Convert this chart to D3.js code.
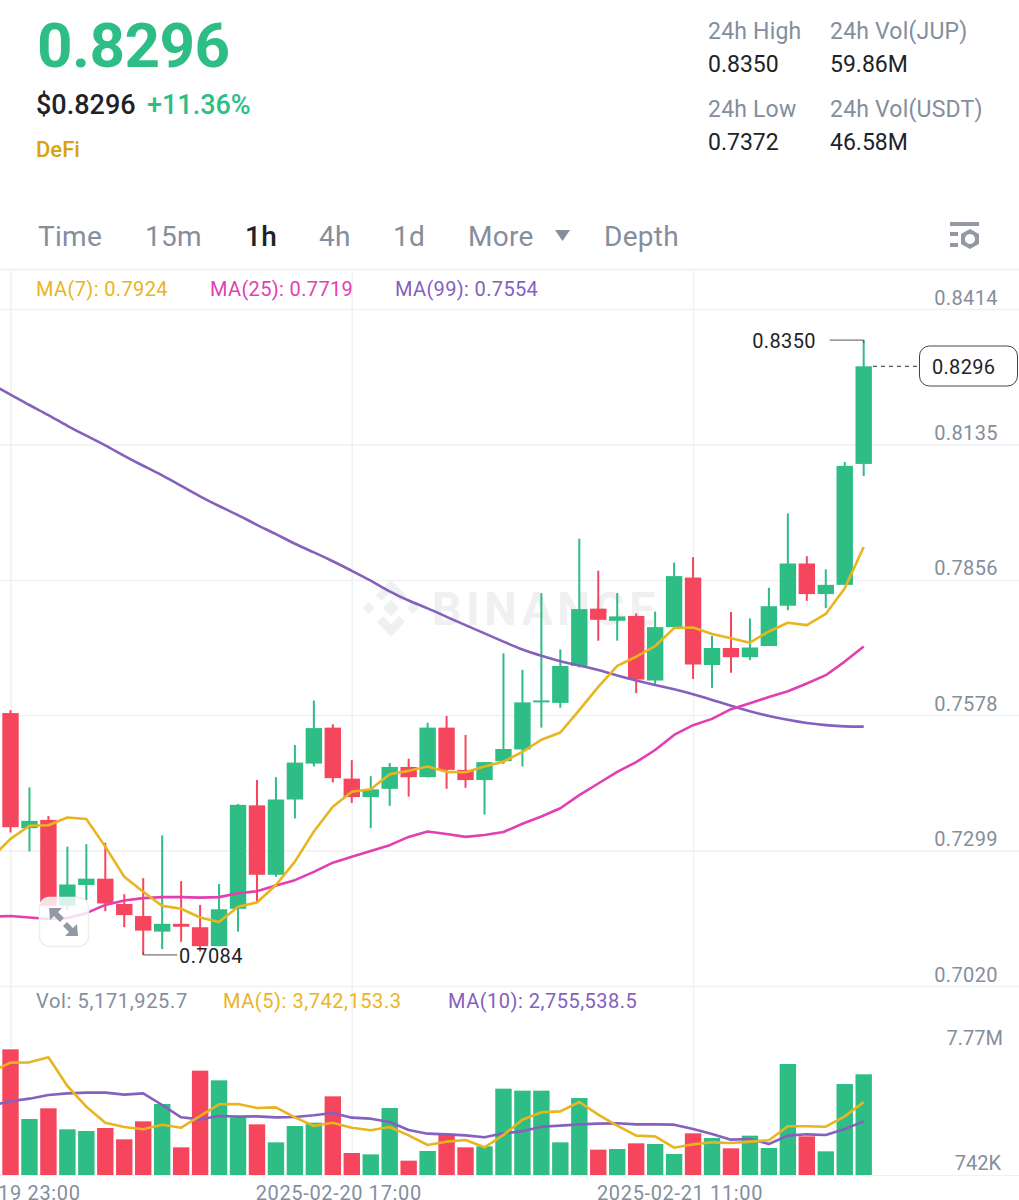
<!DOCTYPE html>
<html>
<head>
<meta charset="utf-8">
<script src="https://cdn.jsdelivr.net/npm/d3@7"></script>
<style>
  body { margin: 0; background: #fff; }
  svg { display: block; }
  text { font-family: Roboto, sans-serif; }
</style>
</head>
<body>
<div id="chart"></div>
<script>
// candles, one per hour, oldest first
var opens = [.7582,.7345,.7362,.7185,.7228,.7241,.7189,.7164,.7132,.7148,.7141,.7102,.7179,.7392,.7249,.7404,.7478,.7552,.7447,.7409,.7426,.7471,.7450,.7552,.7465,.7444,.7483,.7507,.7604,.7603,.7679,.7797,.7772,.7782,.7649,.7759,.7861,.7681,.7716,.7697,.7720,.7803,.7890,.7827,.7846,.8095];
var closes = [.7347,.7360,.7185,.7229,.7241,.7190,.7166,.7134,.7148,.7142,.7102,.7178,.7393,.7249,.7404,.7480,.7551,.7448,.7409,.7425,.7471,.7450,.7552,.7465,.7444,.7481,.7508,.7604,.7608,.7679,.7796,.7774,.7781,.7651,.7759,.7864,.7682,.7716,.7697,.7717,.7802,.7890,.7827,.7846,.8091,.8296];
var highs = [.7588,.7429,.7370,.7307,.7312,.7315,.7209,.7242,.7330,.7236,.7187,.7230,.7395,.7444,.7450,.7516,.7608,.7559,.7485,.7452,.7479,.7488,.7562,.7576,.7537,.7481,.7705,.7671,.7829,.7713,.7941,.7875,.7829,.7787,.7791,.7892,.7903,.7741,.7790,.7777,.7840,.7993,.7905,.7878,.8099,.8350];
var lows = [.7336,.7297,.7184,.7177,.7197,.7174,.7141,.7084,.7096,.7111,.7091,.7102,.7132,.7192,.7245,.7365,.7472,.7439,.7397,.7345,.7391,.7410,.7450,.7426,.7428,.7373,.7477,.7472,.7552,.7593,.7676,.7731,.7731,.7623,.7640,.7759,.7652,.7634,.7665,.7691,.7720,.7794,.7813,.7798,.7846,.8070];

// moving averages start one hour before the first candle, off the left edge
var ma7 = [.7284,.7323,.7350,.7351,.7367,.7364,.7307,.7245,.7214,.7185,.7179,.7161,.7152,.7183,.7192,.7228,.7276,.7338,.7389,.7420,.7425,.7456,.7463,.7472,.7461,.7460,.7472,.7482,.7502,.7527,.7542,.7588,.7636,.7679,.7698,.7720,.7757,.7758,.7745,.7736,.7727,.7750,.7768,.7763,.7786,.7839,.7924];
var ma25 = [.7163,.7164,.7161,.7158,.7160,.7170,.7187,.7196,.7201,.7203,.7203,.7202,.7203,.7211,.7215,.7227,.7238,.7255,.7274,.7286,.7298,.7310,.7327,.7338,.7333,.7327,.7331,.7337,.7354,.7369,.7386,.7413,.7437,.7461,.7481,.7506,.7537,.7557,.7570,.7590,.7602,.7615,.7627,.7643,.7660,.7688,.7719];
var ma99 = [.8259,.8238,.8216,.8196,.8173,.8153,.8134,.8111,.8091,.8072,.8050,.8028,.8008,.7990,.7969,.7951,.7930,.7913,.7895,.7875,.7855,.7832,.7813,.7798,.7780,.7763,.7746,.7729,.7712,.7700,.7688,.7680,.7671,.7659,.7649,.7640,.7631,.7621,.7609,.7597,.7585,.7576,.7568,.7561,.7557,.7554,.7554];

// volume in millions
var volumes = [6.454,2.876,3.424,2.346,2.260,2.414,1.832,2.756,3.647,1.421,5.359,4.862,2.945,2.602,1.678,2.517,2.688,4.040,1.130,1.061,3.441,0.736,1.233,2.123,1.421,1.472,4.434,4.331,4.331,1.678,3.955,1.301,1.335,1.626,1.592,1.079,2.140,1.900,1.370,2.020,1.387,5.701,1.986,1.216,4.674,5.172];
var volMa5 = [5.307,5.770,5.787,6.043,4.571,3.510,2.688,2.465,2.346,2.585,2.431,3.030,3.630,3.647,3.441,3.475,2.962,2.517,2.688,2.431,2.294,2.465,2.037,1.541,1.712,1.798,1.421,2.054,2.842,3.219,3.270,3.749,3.099,2.534,2.020,1.986,1.404,1.575,1.678,1.644,1.712,1.781,2.500,2.500,2.482,3.013,3.742];
var volMa10 = [3.578,3.784,3.921,4.109,4.194,4.229,4.229,4.126,4.194,3.595,2.962,2.859,3.030,2.996,3.013,2.962,2.979,3.065,3.184,2.945,2.893,2.722,2.311,2.123,2.089,2.037,1.935,2.140,2.243,2.482,2.534,2.602,2.637,2.654,2.602,2.602,2.585,2.363,2.106,1.815,1.849,1.592,2.020,2.089,2.054,2.363,2.756];

var priceTicks = [0.8414, 0.8135, 0.7856, 0.7578, 0.7299, 0.7020];
var timeTicks = [0, 18, 36];
var timeLabels = ["2025-02-19 23:00", "2025-02-20 17:00", "2025-02-21 11:00"];
var tabs = ["Time", "15m", "1h", "4h", "1d", "More", "Depth"];
var tabX = [38, 145, 245, 319, 393, 468, 604];
var statLabels = ["24h High", "24h Vol(JUP)", "24h Low", "24h Vol(USDT)"];
var statValues = ["0.8350", "59.86M", "0.7372", "46.58M"];

var GREEN = "#2ebd85", RED = "#f6465d", YELLOW = "#e9b51e", PINK = "#e23fb0", PURPLE = "#8560bd";
var GREY = "#848e9c", DARK = "#1e2329", GRIDC = "#f0f1f3";

var svg = d3.select("#chart").append("svg").attr("width", 1019).attr("height", 1200);

var x = d3.scaleLinear().domain([0, 45]).range([10.5, 863.7]);
var y = d3.scaleLinear().domain([0.7020, 0.8414]).range([986, 309]);
var yv = d3.scaleLinear().domain([0, 5.172]).range([1175, 1074.3]);
var idx = d3.range(opens.length);

function label(t, px, py, size, color, weight, anchor, spacing) {
  return svg.append("text").attr("x", px).attr("y", py).attr("font-size", size)
    .attr("fill", color).attr("font-weight", weight || 400)
    .attr("text-anchor", anchor || "start").attr("letter-spacing", spacing || 0).text(t);
}

// header
label("0.8296", 37, 67, 62, GREEN, 700).attr("textLength", 193);
label("$0.8296", 36, 114, 27, DARK, 500);
label("+11.36%", 147, 114, 27, GREEN, 500);
label("DeFi", 36, 157, 22, "#d9a30f", 500);

statLabels.forEach(function(t, i) {
  var px = i % 2 ? 830 : 708;
  var py = i < 2 ? 39 : 117;
  label(t, px, py, 23, GREY, 400, "start", 0.2);
  label(statValues[i], px, py + 33, 23, DARK);
});

// tabs
tabs.forEach(function(t, i) {
  label(t, tabX[i], 246, 28, t == "1h" ? DARK : GREY, t == "1h" ? 500 : 400, "start", 0.3);
});
svg.append("path").attr("d", "M555 230h15l-7.5 11z").attr("fill", GREY);

// settings icon
var icon = svg.append("g").attr("fill", "#9299a5");
icon.append("rect").attr("x", 950).attr("y", 222).attr("width", 29).attr("height", 4);
icon.append("rect").attr("x", 950).attr("y", 232).attr("width", 8).attr("height", 4);
icon.append("rect").attr("x", 950).attr("y", 243).attr("width", 8).attr("height", 4);
icon.append("path").attr("fill-rule", "evenodd")
  .attr("d", "M970 229l9 5v10l-9 5-9-5v-10zM970 234a5 5 0 1 0 .01 0z");

// frame lines
svg.append("line").attr("x1", 0).attr("x2", 1019).attr("y1", 269.5).attr("y2", 269.5).attr("stroke", GRIDC).attr("stroke-width", 2);
svg.append("line").attr("x1", 0).attr("x2", 1019).attr("y1", 1175.5).attr("y2", 1175.5).attr("stroke", GRIDC);

// price axis carries the horizontal grid
var yAxis = svg.append("g").call(d3.axisRight(y).tickValues(priceTicks).tickSize(1019).tickFormat(d3.format(".4f")));
yAxis.select(".domain").remove();
yAxis.selectAll("line").attr("stroke", GRIDC).attr("stroke-width", 1.5);
yAxis.selectAll("text").attr("x", 998).attr("dy", -5).attr("text-anchor", "end")
  .attr("font-size", 20).attr("fill", GREY).attr("letter-spacing", 0.4).attr("font-family", "Roboto, sans-serif");

// time axis carries the vertical grid
var xAxis = svg.append("g").attr("transform", "translate(0,1175)")
  .call(d3.axisTop(x).tickValues(timeTicks).tickSize(905).tickFormat(""));
xAxis.select(".domain").remove();
xAxis.selectAll("line").attr("stroke", GRIDC).attr("stroke-width", 1.5);
timeTicks.forEach(function(t, i) {
  label(timeLabels[i], x(t) - 13, 1200, 20, GREY, 400, "middle", 0.65);
});

// watermark
var wm = svg.append("g").attr("fill", "#eef0f1").attr("transform", "translate(391,608) scale(1.16) translate(-391,-605)");
wm.append("path").attr("d", "M391 581l13 13-5 5-8-8-8 8-5-5zM367 605l5-5 5 5-5 5zM405 605l5-5 5 5-5 5zM391 598l7 7-7 7-7-7zM379 617l5-5 7 7 7-7 5 5-12 12.5z");
label("BINANCE", 432, 625, 46, "#eef0f1", 700).attr("textLength", 223);

// candles
var candles = svg.append("g").selectAll("g").data(idx).enter().append("g")
  .attr("fill", function(i) { return closes[i] >= opens[i] ? GREEN : RED; });
candles.append("rect")
  .attr("x", function(i) { return x(i) - 1; })
  .attr("width", 2)
  .attr("y", function(i) { return y(highs[i]); })
  .attr("height", function(i) { return y(lows[i]) - y(highs[i]); });
candles.append("rect")
  .attr("x", function(i) { return x(i) - 8.2; })
  .attr("width", 16.4)
  .attr("y", function(i) { return y(Math.max(opens[i], closes[i])); })
  .attr("height", function(i) { return Math.max(1.6, Math.abs(y(opens[i]) - y(closes[i]))); });

// volume bars
svg.append("g").selectAll("rect").data(idx).enter().append("rect")
  .attr("x", function(i) { return x(i) - 8.2; })
  .attr("width", 16.4)
  .attr("y", function(i) { return yv(volumes[i]); })
  .attr("height", function(i) { return yv(0) - yv(volumes[i]); })
  .attr("fill", function(i) { return closes[i] >= opens[i] ? GREEN : RED; });

// moving average lines
function drawLine(values, scale, color, curve) {
  var line = d3.line().x(function(d, i) { return x(i - 1); }).y(function(d) { return scale(d); })
    .curve(curve || d3.curveLinear);
  svg.append("path").datum(values).attr("d", line).attr("fill", "none")
    .attr("stroke", color).attr("stroke-width", 2.6).attr("stroke-linejoin", "round");
}
drawLine(ma99, y, PURPLE, d3.curveBasis);
drawLine(ma25, y, PINK);
drawLine(ma7, y, YELLOW);
drawLine(volMa10, yv, PURPLE);
drawLine(volMa5, yv, YELLOW);

// legends
label("MA(7): 0.7924", 36, 296, 20, YELLOW, 400, "start", 0.38);
label("MA(25): 0.7719", 210, 296, 20, PINK, 400, "start", 0.35);
label("MA(99): 0.7554", 395, 296, 20, PURPLE, 400, "start", 0.35);
label("Vol: 5,171,925.7", 36, 1008, 20, GREY, 400, "start", 0.65);
label("MA(5): 3,742,153.3", 223, 1008, 20, YELLOW, 400, "start", 0.55);
label("MA(10): 2,755,538.5", 448, 1008, 20, PURPLE, 400, "start", 0.5);
label("7.77M", 1003, 1045, 20, GREY, 400, "end");
label("742K", 1001, 1170, 20, GREY, 400, "end");

// high and low markers
var hi = d3.max(highs), lo = d3.min(lows), hiX = x(highs.indexOf(hi)), loX = x(lows.indexOf(lo));
svg.append("path").attr("d", "M" + (hiX - 34) + " " + y(hi) + "H" + hiX + "V" + (y(hi) + 3))
  .attr("fill", "none").attr("stroke", "#555");
label("0.8350", 816, y(hi) + 8, 20, DARK, 400, "end", 0.4);
svg.append("path").attr("d", "M" + loX + " " + (y(lo) - 3) + "V" + y(lo) + "H" + (loX + 34))
  .attr("fill", "none").attr("stroke", "#555");
label("0.7084", 179, y(lo) + 8, 20, DARK, 400, "start", 0.4);

// last price tag
var lastY = y(closes[closes.length - 1]);
svg.append("line").attr("x1", 873).attr("x2", 917).attr("y1", lastY).attr("y2", lastY)
  .attr("stroke", "#333").attr("stroke-dasharray", "4 4");
svg.append("rect").attr("x", 919.5).attr("y", 346).attr("width", 98).attr("height", 40).attr("rx", 10)
  .attr("fill", "#fff").attr("stroke", "#444");
label("0.8296", 932, 374, 20, DARK, 400, "start", 0.3);

// expand button over the chart
svg.append("rect").attr("x", 39.5).attr("y", 897.5).attr("width", 49).attr("height", 49).attr("rx", 10)
  .attr("fill", "#fff").attr("fill-opacity", 0.82).attr("stroke", "#eceef0").attr("stroke-width", 1.5);
svg.append("path").attr("fill", "#9299a5")
  .attr("d", "M49 908h13l-4 4 6 6-4 4-6-6-4 4zM78 936h-13l4-4-6-6 4-4 6 6 4-4z");
</script>
</body>
</html>
